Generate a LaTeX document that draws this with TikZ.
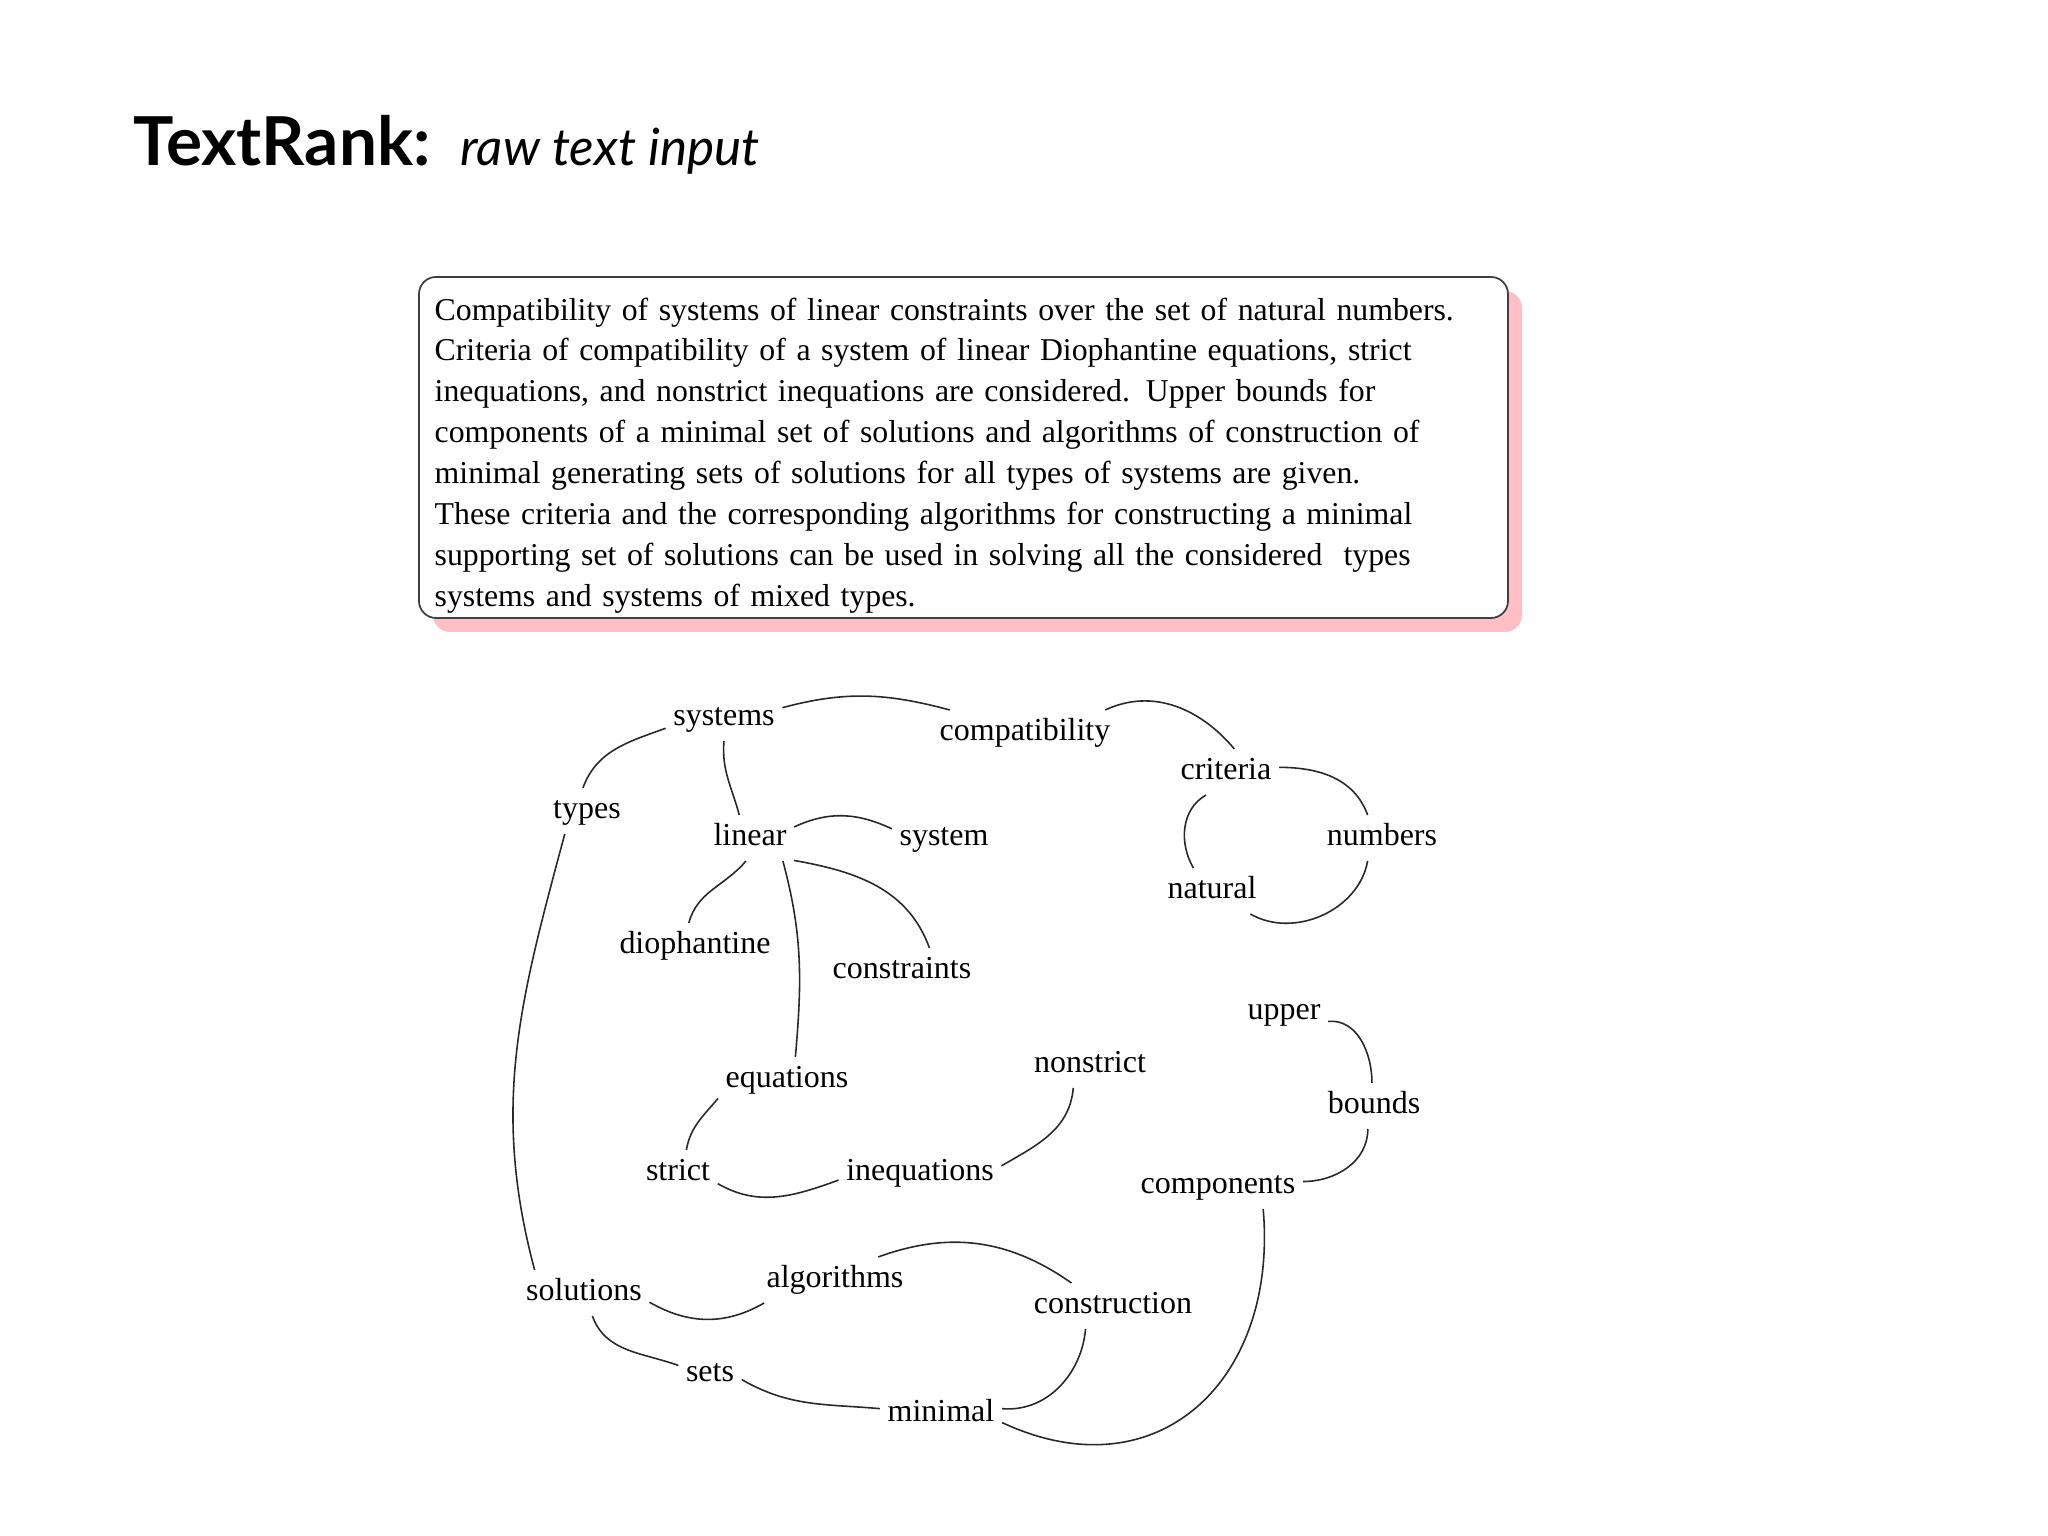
\documentclass[tikz,border=0pt]{standalone}
\usepackage{fontspec}
\setmainfont{Liberation Serif}
\newfontfamily\titlefont{Lato}
\usetikzlibrary{shadows}

\definecolor{shadowpink}{RGB}{255,191,196}
\definecolor{edgegray}{RGB}{40,40,40}

\begin{document}
\begin{tikzpicture}[
  word/.style={font=\fontsize{9.1}{11}\selectfont, inner sep=2pt, text height=6.4pt, text depth=2.3pt},
  link/.style={draw=edgegray, line width=0.45pt},
  abstractbox/.style={draw=black!75, line width=0.5pt, rounded corners=0.17cm, fill=white,
    drop shadow={shadow xshift=0.14cm, shadow yshift=-0.14cm, fill=shadowpink, opacity=1},
    minimum width=10.89cm, minimum height=3.41cm},
  abstracttext/.style={text width=10.59cm, inner sep=0, align=left,
    font=\fontsize{9.04}{11.64}\selectfont}
]
\useasboundingbox (0,0) rectangle (20.48,15.36);

% title
\node[anchor=base west, inner sep=0, font=\titlefont\bfseries\fontsize{19.2}{22}\selectfont] (title) at (1.33,13.70) {TextRank:};
\node[anchor=base west, inner sep=0, font=\titlefont\itshape\fontsize{14.6}{18}\selectfont] (subtitle) at (4.60,13.70) {raw text input};

% the abstract
\node[abstractbox] (abstract) at (9.635,10.885) {};
\node[abstracttext, anchor=north west] (abstracttext) at (4.34,12.39) {Compatibility of systems of linear constraints over the set of natural numbers.\\
Criteria of compatibility of a system of linear Diophantine equations, strict\\
inequations, and nonstrict inequations are considered. Upper bounds for\\
components of a minimal set of solutions and algorithms of construction of\\
minimal generating sets of solutions for all types of systems are given.\\
These criteria and the corresponding algorithms for constructing a minimal\\
supporting set of solutions can be used in solving all the considered~~types\\
systems and systems of mixed types.};

% the word graph
\node[word] (systems) at (7.24,8.18) {systems};
\node[word] (compatibility) at (10.25,8.03) {compatibility};
\node[word] (criteria) at (12.26,7.64) {criteria};
\node[word] (types) at (5.87,7.25) {types};
\node[word] (linear) at (7.50,6.98) {linear};
\node[word] (system) at (9.44,6.98) {system};
\node[word] (numbers) at (13.82,6.98) {numbers};
\node[word] (natural) at (12.12,6.45) {natural};
\node[word] (diophantine) at (6.95,5.90) {diophantine};
\node[word] (constraints) at (9.02,5.65) {constraints};
\node[word] (upper) at (12.84,5.24) {upper};
\node[word] (nonstrict) at (10.90,4.71) {nonstrict};
\node[word] (equations) at (7.87,4.56) {equations};
\node[word] (bounds) at (13.74,4.30) {bounds};
\node[word] (strict) at (6.78,3.63) {strict};
\node[word] (inequations) at (9.20,3.63) {inequations};
\node[word] (components) at (12.18,3.50) {components};
\node[word] (algorithms) at (8.35,2.56) {algorithms};
\node[word] (solutions) at (5.84,2.43) {solutions};
\node[word] (construction) at (11.13,2.30) {construction};
\node[word] (sets) at (7.10,1.62) {sets};
\node[word] (minimal) at (9.41,1.22) {minimal};

\draw[link] (systems.10) to[out=15,in=165] (compatibility.163);
\draw[link] (compatibility.16) to[out=25,in=130] (criteria.70);
\draw[link] (systems.190) to[out=200,in=70] (types.100);
\draw[link] (systems.-90) to[out=-95,in=105] (linear.115);
\draw[link] (types.226) to[out=-105,in=105] (solutions.155);
\draw[link] (linear.14) to[out=25,in=155] (system.170);
\draw[link] (linear.-100) to[out=-130,in=75] (diophantine.105);
\draw[link] (linear.-27) to[out=-10,in=110] (constraints.40);
\draw[link] (linear.-35) to[out=-75,in=85] (equations.70);
\draw[link] (equations.195) to[out=-130,in=80] (strict.70);
\draw[link] (strict.-15) to[out=-30,in=200] (inequations.185);
\draw[link] (inequations.5) to[out=30,in=-95] (nonstrict.-126);
\draw[link] (upper.-12) to[out=5,in=90] (bounds.95);
\draw[link] (bounds.-105) to[out=-90,in=0] (components.3);
\draw[link] (criteria.5) to[out=0,in=110] (numbers.122);
\draw[link] (numbers.-122) to[out=-100,in=-30] (natural.-31);
\draw[link] (criteria.-131) to[out=-150,in=120] (natural.129);
\draw[link] (solutions.-8) to[out=-30,in=210] (algorithms.198);
\draw[link] (solutions.-70) to[out=-70,in=160] (sets.165);
\draw[link] (algorithms.28) to[out=20,in=145] (construction.151);
\draw[link] (sets.-10) to[out=-30,in=175] (minimal.175);
\draw[link] (construction.-140) to[out=-95,in=-5] (minimal.5);
\draw[link] (components.-27) to[out=-85,in=-25,looseness=1.3] (minimal.-8);
\end{tikzpicture}
\end{document}
